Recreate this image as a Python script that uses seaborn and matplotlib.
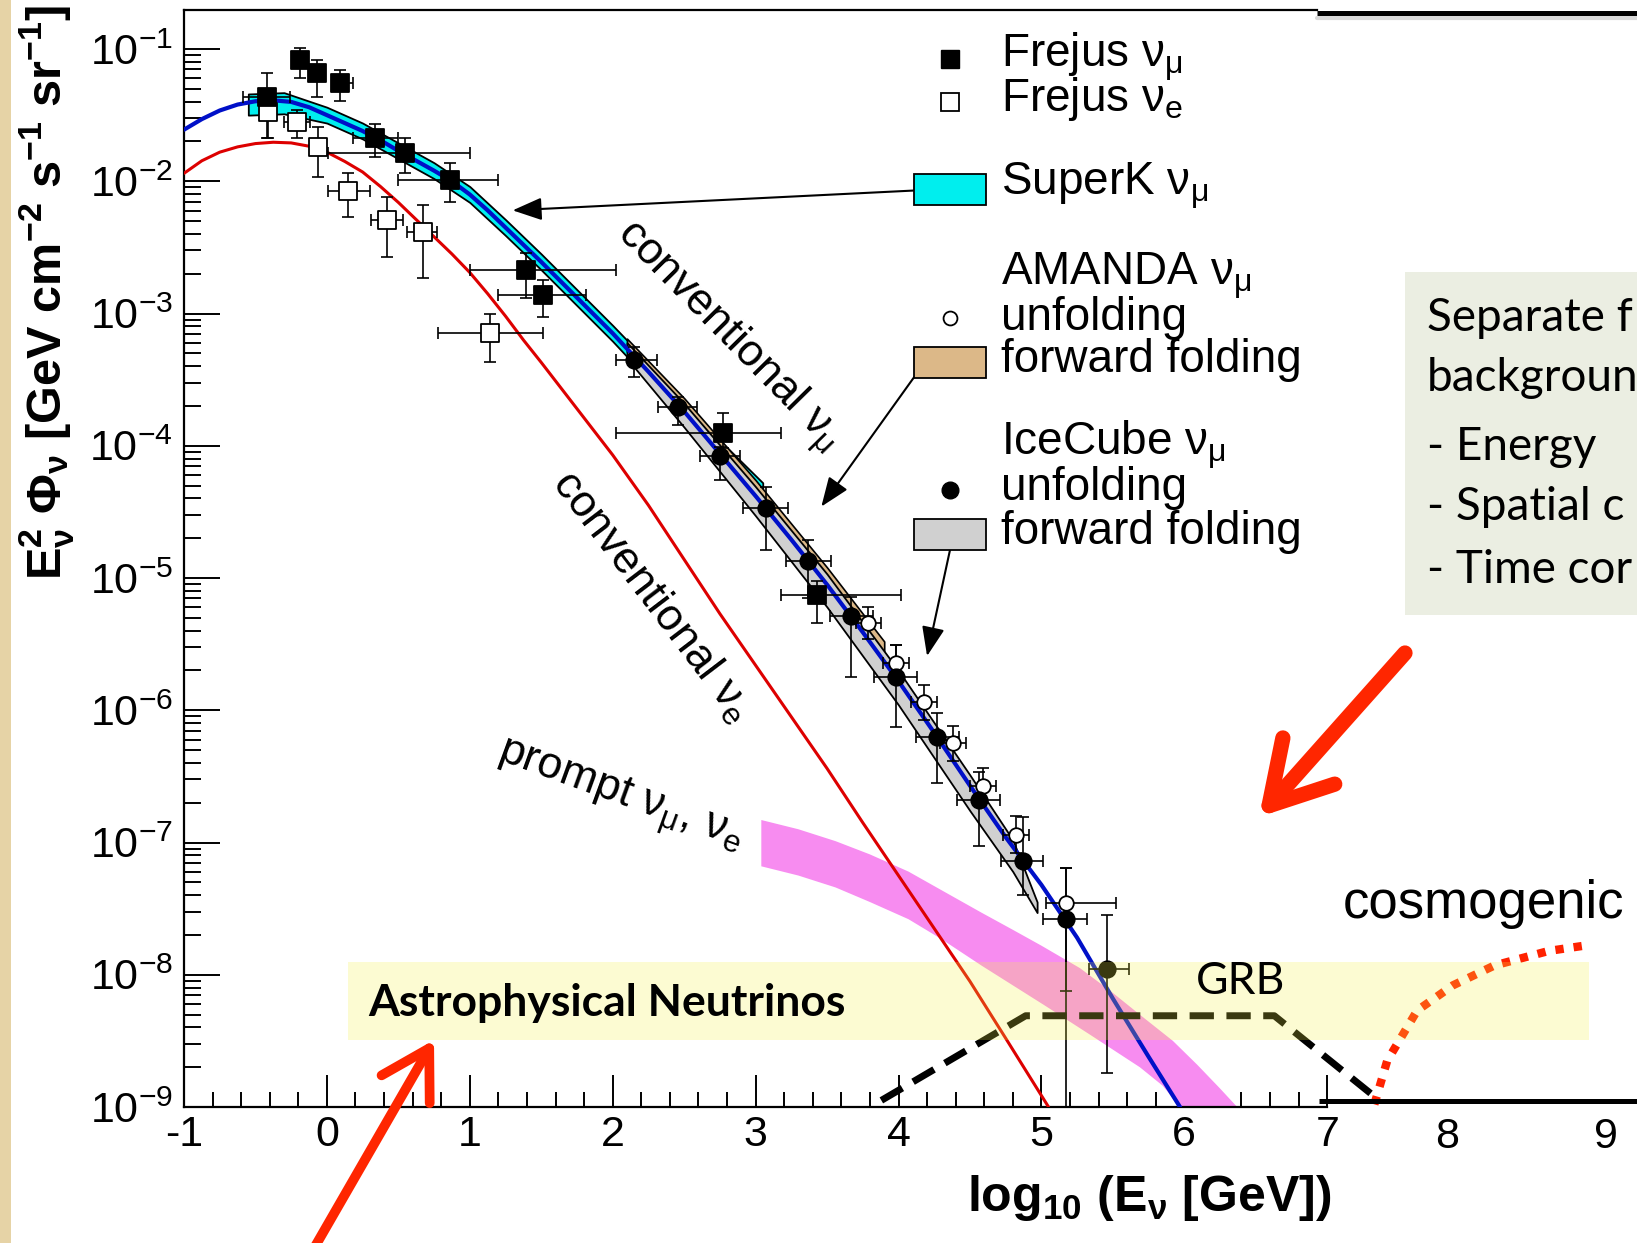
import numpy as np
import seaborn as sns
import matplotlib.pyplot as plt
from matplotlib.patches import Rectangle, FancyArrowPatch
from matplotlib.lines import Line2D
from matplotlib.ticker import FixedLocator, LogLocator, NullFormatter, FuncFormatter

# x = log10(E / GeV), y = log10(E^2 Phi)

# conventional nu_mu (blue) and nu_e (red) curves
blue_x = [-1.0, -0.875, -0.75, -0.625, -0.5, -0.375, -0.25, -0.125, 0.0, 0.125, 0.25, 0.375, 0.5, 0.625, 0.75,
          0.875, 1.0, 1.125, 1.25, 1.375, 1.5, 1.75, 2.0, 2.25, 2.5,
          2.75, 3.0, 3.25, 3.5, 3.75, 4.0, 4.25, 4.5, 4.75, 5.0, 5.25, 5.5, 5.75, 5.97]
blue_y = [-1.61, -1.53, -1.465, -1.42, -1.395, -1.388, -1.40, -1.44, -1.50, -1.56, -1.62, -1.69, -1.77, -1.845, -1.92,
          -2.00, -2.10, -2.22, -2.35, -2.48, -2.61, -2.88, -3.15, -3.44, -3.74,
          -4.06, -4.38, -4.71, -5.05, -5.41, -5.78, -6.17, -6.57, -6.96, -7.32, -7.72, -8.18, -8.62, -9.0]
red_x = [-1.0, -0.875, -0.75, -0.625, -0.5, -0.375, -0.25, -0.125, 0.0, 0.125, 0.25, 0.375, 0.5, 0.625, 0.75,
         0.875, 1.0, 1.125, 1.25, 1.375, 1.5, 1.75, 2.0, 2.25, 2.5,
         2.75, 3.0, 3.25, 3.5, 3.75, 4.0, 4.25, 4.5, 4.75, 5.05]
red_y = [-1.94, -1.845, -1.78, -1.74, -1.715, -1.705, -1.71, -1.735, -1.78, -1.85, -1.93, -2.04, -2.16, -2.29, -2.42,
         -2.55, -2.69, -2.85, -3.02, -3.20, -3.37, -3.72, -4.07, -4.45, -4.86,
         -5.27, -5.66, -6.05, -6.44, -6.85, -7.25, -7.65, -8.05, -8.48, -9.0]

# SuperK band
superk_x = [-0.55, -0.3, 0.0, 0.25, 0.5, 0.75, 1.0, 1.25, 1.5, 1.75, 2.0, 2.25, 2.5, 2.75, 3.05]
superk_hi = [-1.34, -1.33, -1.44, -1.56, -1.71, -1.86, -2.04, -2.29, -2.55, -2.82, -3.09, -3.37, -3.66, -3.96, -4.28]
superk_lo = [-1.50, -1.49, -1.56, -1.68, -1.83, -1.98, -2.16, -2.41, -2.67, -2.94, -3.21, -3.50, -3.80, -4.12, -4.46]

# AMANDA forward folding band
amanda_ff_x = [2.1, 2.5, 3.0, 3.5, 3.9]
amanda_ff_hi = [-3.19, -3.64, -4.26, -4.92, -5.48]
amanda_ff_lo = [-3.29, -3.77, -4.40, -5.07, -5.66]

# IceCube forward folding band
icecube_ff_x = [2.1, 2.5, 3.0, 3.5, 4.0, 4.5, 4.8, 4.97]
icecube_ff_hi = [-3.22, -3.68, -4.31, -4.97, -5.70, -6.49, -6.98, -7.45]
icecube_ff_lo = [-3.34, -3.86, -4.53, -5.22, -5.96, -6.76, -7.22, -7.53]

# prompt band edges
prompt_hi_x = [3.04, 3.3, 3.56, 3.8, 4.07, 4.3, 4.58, 4.8, 5.0, 5.27, 5.48, 5.71, 5.92, 6.09, 6.25, 6.37]
prompt_hi_y = [-6.83, -6.90, -6.99, -7.09, -7.22, -7.36, -7.53, -7.66, -7.78, -7.95, -8.12, -8.32, -8.50, -8.68, -8.86, -9.0]
prompt_lo_x = [3.04, 3.3, 3.56, 3.8, 4.07, 4.3, 4.58, 4.8, 5.02, 5.35, 5.69, 5.85, 5.97]
prompt_lo_y = [-7.18, -7.25, -7.34, -7.45, -7.58, -7.73, -7.93, -8.08, -8.23, -8.46, -8.70, -8.84, -9.0]

# Frejus nu_mu
fmu_x = [-0.42, -0.19, -0.07, 0.09, 0.34, 0.55, 0.86, 1.39, 1.51, 2.77, 3.43]
fmu_y = [-1.36, -1.08, -1.18, -1.26, -1.67, -1.79, -1.99, -2.67, -2.86, -3.90, -5.13]
fmu_ylo = [-1.67, -1.22, -1.36, -1.39, -1.82, -1.94, -2.16, -2.88, -3.03, -4.02, -5.34]
fmu_yhi = [-1.18, -0.99, -1.08, -1.16, -1.57, -1.67, -1.86, -2.54, -2.75, -3.75, -5.02]
fmu_xlo = [-0.59, -0.19, -0.07, 0.09, 0.18, 0.01, 0.50, 1.00, 1.20, 2.02, 3.18]
fmu_xhi = [-0.26, -0.19, -0.07, 0.18, 0.50, 1.00, 1.20, 2.02, 1.81, 3.18, 4.02]

# Frejus nu_e
fe_x = [-0.41, -0.21, -0.06, 0.15, 0.42, 0.67, 1.14]
fe_y = [-1.48, -1.55, -1.74, -2.07, -2.29, -2.38, -3.15]
fe_ylo = [-1.67, -1.67, -1.97, -2.27, -2.57, -2.73, -3.37]
fe_yhi = [-1.40, -1.46, -1.59, -1.94, -2.12, -2.18, -3.00]
fe_xlo = [-0.41, -0.30, -0.06, 0.01, 0.31, 0.56, 0.78]
fe_xhi = [-0.41, -0.12, -0.06, 0.30, 0.53, 0.77, 1.51]

# AMANDA unfolding
am_x = [3.79, 3.98, 4.18, 4.38, 4.59, 4.82, 5.17]
am_y = [-5.34, -5.64, -5.94, -6.25, -6.57, -6.94, -7.46]
am_ylo = [-5.46, -5.77, -6.07, -6.38, -6.70, -7.08, -8.12]
am_yhi = [-5.22, -5.51, -5.81, -6.12, -6.44, -6.80, -7.19]
am_xlo = [3.70, 3.89, 4.09, 4.29, 4.50, 4.73, 5.03]
am_xhi = [3.88, 4.07, 4.27, 4.47, 4.68, 4.91, 5.52]

# IceCube unfolding
ic_x = [2.15, 2.46, 2.75, 3.07, 3.37, 3.67, 3.98, 4.27, 4.56, 4.87, 5.17, 5.46]
ic_y = [-3.35, -3.71, -4.08, -4.47, -4.87, -5.29, -5.75, -6.20, -6.68, -7.14, -7.58, -7.96]
ic_ylo = [-3.48, -3.84, -4.26, -4.79, -5.15, -5.75, -6.13, -6.55, -7.03, -7.40, -9.0, -8.74]
ic_yhi = [-3.25, -3.63, -4.01, -4.31, -4.71, -5.14, -5.51, -6.02, -6.47, -6.81, -7.19, -7.55]
ic_xlo = [2.02, 2.32, 2.61, 2.91, 3.21, 3.52, 3.83, 4.12, 4.41, 4.72, 5.01, 5.33]
ic_xhi = [2.31, 2.59, 2.89, 3.23, 3.53, 3.82, 4.13, 4.42, 4.71, 5.01, 5.32, 5.61]

# GRB, cosmogenic, astrophysical region
grb_x = [3.88, 4.89, 6.63, 7.33]
grb_y = [-8.95, -8.31, -8.31, -8.92]
cosmo_x = [7.33, 7.42, 7.63, 7.88, 8.17, 8.55, 8.80]
cosmo_y = [-8.98, -8.65, -8.27, -8.08, -7.93, -7.82, -7.78]
astro_x = [0.15, 8.83]
astro_y = [-8.49, -7.90]

x_ticks = [-1, 0, 1, 2, 3, 4, 5, 6, 7]
x_tick_labels = ['-1', '0', '1', '2', '3', '4', '5', '6', '7']
extra_x_labels = ['8', '9']
box_lines = ['Separate f', 'backgroun', '- Energy', '- Spatial c', '- Time cor']

W, H = 1637, 1243


def fx(px):
    return px / W


def fy(py):
    return 1 - py / H


def p10(v):
    return 10 ** np.asarray(v, dtype=float)


sns.set_style('ticks', {'axes.edgecolor': 'black', 'xtick.color': 'black', 'ytick.color': 'black',
                        'text.color': 'black', 'axes.labelcolor': 'black'})
plt.rcParams['font.family'] = ['Liberation Sans', 'DejaVu Sans']
plt.rcParams['mathtext.default'] = 'regular'

fig = plt.figure(figsize=(W / 100, H / 100), dpi=100)
fig.patch.set_facecolor('white')
ax = fig.add_axes([fx(184), fy(1107), (W - 184) / W, (1107 - 10) / H])
ax.set_facecolor('none')
ax.set_yscale('log')
ax.set_xlim(-1, -1 + (W - 184) / 142.9)
ax.set_ylim(1e-9, 10 ** -0.705)

# bands
ax.fill_between(superk_x, p10(superk_lo), p10(superk_hi), facecolor='#00eeee', edgecolor='black', lw=1.3, zorder=2)
ax.fill_between(amanda_ff_x, p10(amanda_ff_lo), p10(amanda_ff_hi), facecolor='#dcb888', edgecolor='black', lw=1.2, zorder=2)
ax.fill_between(icecube_ff_x, p10(icecube_ff_lo), p10(icecube_ff_hi), facecolor='#d0d0d0', edgecolor='black', lw=1.3, zorder=2.1)
ax.fill(list(prompt_hi_x) + prompt_lo_x[::-1], p10(list(prompt_hi_y) + prompt_lo_y[::-1]),
        facecolor='#f78cf0', edgecolor='none', zorder=2)

# model curves
sns.lineplot(x=blue_x, y=p10(blue_y), ax=ax, color='#0010c8', lw=3, sort=False, estimator=None, zorder=3)
sns.lineplot(x=red_x, y=p10(red_y), ax=ax, color='#dd0000', lw=2.2, sort=False, estimator=None, zorder=3)

# GRB and cosmogenic
ax.plot(grb_x, p10(grb_y), color='black', lw=5, dashes=(3.5, 1.8), zorder=3)
ax.plot(cosmo_x, p10(cosmo_y), color='#ff2200', lw=6, dashes=(1, 1.2), zorder=3, clip_on=False)


def draw_points(x, y, ylo, yhi, xlo, xhi, marker, face, size):
    x, xlo, xhi = np.array(x), np.array(xlo), np.array(xhi)
    yv, ylov, yhiv = p10(y), p10(ylo), p10(yhi)
    ax.errorbar(x, yv, xerr=[x - xlo, xhi - x], yerr=[yv - ylov, yhiv - yv], fmt='none',
                ecolor='black', elinewidth=1.2, capsize=4, capthick=1.2, zorder=4)
    sns.scatterplot(x=x, y=yv, marker=marker, s=size, color=face, edgecolor='black',
                    linewidth=1.3, ax=ax, zorder=5)


draw_points(fe_x, fe_y, fe_ylo, fe_yhi, fe_xlo, fe_xhi, 's', 'white', 170)
draw_points(fmu_x, fmu_y, fmu_ylo, fmu_yhi, fmu_xlo, fmu_xhi, 's', 'black', 170)
draw_points(am_x, am_y, am_ylo, am_yhi, am_xlo, am_xhi, 'o', 'white', 110)
draw_points(ic_x, ic_y, ic_ylo, ic_yhi, ic_xlo, ic_xhi, 'o', 'black', 140)

# astrophysical region overlay
ax.fill_between(astro_x, p10(astro_y[0]), p10(astro_y[1]), facecolor='#f6f243', alpha=0.24, lw=0, zorder=6)

# spines and ticks
ax.spines['right'].set_visible(False)
ax.spines['top'].set_bounds(-1, 6.93)
ax.spines['bottom'].set_bounds(-1, 7)
for s in ['left', 'bottom', 'top']:
    ax.spines[s].set_linewidth(1.6)
ax.xaxis.set_major_locator(FixedLocator(x_ticks))
ax.set_xticklabels(x_tick_labels)
ax.xaxis.set_minor_locator(FixedLocator([i / 5 for i in range(-4, 35) if i % 5]))
ax.yaxis.set_major_locator(LogLocator(base=10, numticks=20))
ax.yaxis.set_minor_locator(LogLocator(base=10, subs=np.arange(2, 10), numticks=20))
ax.yaxis.set_minor_formatter(NullFormatter())
ax.yaxis.set_major_formatter(FuncFormatter(lambda v, p: '10$^{%d}$' % int(round(np.log10(v)))))
ax.tick_params(axis='both', which='both', direction='in', top=False, right=False, width=1.4, labelsize=31)
ax.tick_params(axis='y', which='major', length=26, pad=8)
ax.tick_params(axis='y', which='minor', length=12)
ax.tick_params(axis='x', which='major', length=23, pad=6)
ax.tick_params(axis='x', which='minor', length=11)

# slide decorations
fig.add_artist(Rectangle((0, 0), fx(11), 1, transform=fig.transFigure, facecolor='#e6d3a6', lw=0))
fig.add_artist(Line2D([fx(1317), 1], [fy(18), fy(18)], color='#d8d8d8', lw=3, transform=fig.transFigure))
fig.add_artist(Line2D([fx(1317), 1], [fy(13), fy(13)], color='black', lw=3.6, solid_capstyle='butt', transform=fig.transFigure))
fig.add_artist(Line2D([fx(1319), 1], [fy(1101), fy(1101)], color='black', lw=3.6, solid_capstyle='butt', transform=fig.transFigure))
for lab, px in zip(extra_x_labels, [1447, 1606]):
    fig.text(fx(px), fy(1137), lab, ha='center', va='center', fontsize=31)

# axis titles
fig.text(fx(47), fy(5), r'E$_{ν}^{2}$ Φ$_{ν}$ [GeV cm$^{-2}$ s$^{-1}$ sr$^{-1}$]', rotation=90,
         ha='center', va='top', fontsize=35, fontweight='bold')
fig.text(fx(1331), fy(1211), r'log$_{10}$ (E$_{ν}$ [GeV])', ha='right', va='baseline', fontsize=36, fontweight='bold')

# in-plot labels
ax.text(2.80, 10 ** -3.18, 'conventional ν$_{μ}$', rotation=-45.5, rotation_mode='anchor',
        ha='center', va='center', fontsize=32, zorder=7)
ax.text(2.275, 10 ** -5.14, 'conventional ν$_{e}$', rotation=-52.7, rotation_mode='anchor',
        ha='center', va='center', fontsize=32, zorder=7)
ax.text(2.05, 10 ** -6.66, 'prompt ν$_{μ}$, ν$_{e}$', rotation=-20, rotation_mode='anchor',
        ha='center', va='center', fontsize=32, zorder=7)

# black pointer arrows
arrow_kw = dict(arrowstyle='-|>,head_length=0.9,head_width=0.35', color='black', lw=1.5,
                shrinkA=0, shrinkB=0, mutation_scale=20)
ax.annotate('', xy=(1.30, 10 ** -2.22), xytext=(4.11, 10 ** -2.07), arrowprops=arrow_kw, zorder=5)
ax.annotate('', xy=(3.46, 10 ** -4.46), xytext=(4.11, 10 ** -3.48), arrowprops=arrow_kw, zorder=5)
ax.annotate('', xy=(4.20, 10 ** -5.59), xytext=(4.36, 10 ** -4.79), arrowprops=arrow_kw, zorder=5)

# legend, drawn by hand like the ROOT one
leg_font = 33
fig.add_artist(Line2D([fx(950)], [fy(59)], marker='s', ms=13, mfc='black', mec='black', transform=fig.transFigure))
fig.add_artist(Line2D([fx(950)], [fy(102)], marker='s', ms=13, mfc='white', mec='black', mew=1.3, transform=fig.transFigure))
fig.add_artist(Line2D([fx(950)], [fy(318)], marker='o', ms=10, mfc='white', mec='black', mew=1.3, transform=fig.transFigure))
fig.add_artist(Line2D([fx(950)], [fy(490)], marker='o', ms=12, mfc='black', mec='black', transform=fig.transFigure))
for top, col in [(174, '#00eeee'), (347, '#dcb888'), (519, '#d0d0d0')]:
    fig.add_artist(Rectangle((fx(914), fy(top + 31)), 72 / W, 31 / H, transform=fig.transFigure,
                             facecolor=col, edgecolor='black', lw=1.3))
leg_entries = [(67, 'Frejus ν$_{μ}$'), (111, 'Frejus ν$_{e}$'), (195, 'SuperK ν$_{μ}$'),
               (285, 'AMANDA ν$_{μ}$'), (330, 'unfolding'), (372, 'forward folding'),
               (456, 'IceCube ν$_{μ}$'), (500, 'unfolding'), (544, 'forward folding')]
for base, txt in leg_entries:
    fig.text(fx(1001), fy(base), txt, ha='left', va='baseline', fontsize=leg_font, zorder=8)

# slide annotations
ax.text(0.29, 10 ** -8.21, 'Astrophysical Neutrinos', fontsize=32, fontweight='bold', family=['Lato', 'DejaVu Sans'],
        ha='left', va='center', zorder=7)
ax.text(6.08, 10 ** -8.05, 'GRB', fontsize=32, family=['Lato', 'DejaVu Sans'], ha='left', va='center', zorder=7)
fig.text(fx(1343), fy(918), 'cosmogenic', fontsize=38, ha='left', va='baseline')

fig.add_artist(Rectangle((fx(1405), fy(615)), (W - 1405) / W, (615 - 272) / H, transform=fig.transFigure,
                         facecolor='#ebeee2', lw=0))
for base, txt in zip([331, 391, 460, 520, 583], box_lines):
    fig.text(fx(1427), fy(base), txt, fontsize=33, family=['Lato', 'DejaVu Sans'], ha='left', va='baseline')

# big red slide arrows
fig.add_artist(FancyArrowPatch((fx(313), fy(1250)), (fx(434), fy(1040)), transform=fig.transFigure,
                               arrowstyle='->,head_length=0.34,head_width=0.2', mutation_scale=100,
                               lw=7, color='#ff2600', shrinkA=0, shrinkB=0, capstyle='round', joinstyle='round'))
fig.add_artist(FancyArrowPatch((fx(1405), fy(653)), (fx(1259), fy(817)), transform=fig.transFigure,
                               arrowstyle='->,head_length=0.43,head_width=0.25', mutation_scale=100,
                               lw=11, color='#ff2600', shrinkA=0, shrinkB=0, capstyle='round', joinstyle='round'))

fig.savefig('out.png', dpi=100)
